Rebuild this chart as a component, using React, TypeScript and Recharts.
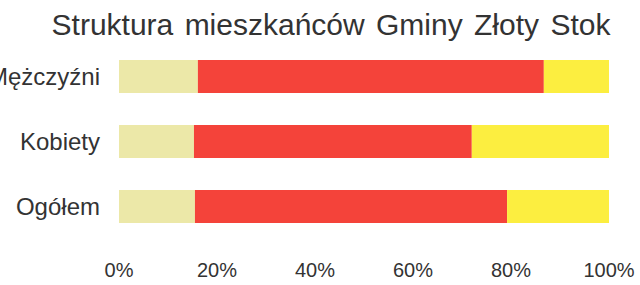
import React from 'react';
import { BarChart, Bar, XAxis, YAxis, CartesianGrid } from 'recharts';

// udział grup wieku ekonomicznego w %
const categories = ['Mężczyźni', 'Kobiety', 'Ogółem'];
const przedprodukcyjny = [16.1, 15.3, 15.5];
const produkcyjny = [70.6, 56.7, 63.7];
const poprodukcyjny = [13.3, 28.0, 20.8];
const xTicks = [0, 20, 40, 60, 80, 100];

const data = categories.map((name, i) => ({
  name,
  przed: przedprodukcyjny[i],
  prod: produkcyjny[i],
  po: poprodukcyjny[i],
}));

const FONT = '"Liberation Sans", Arial, sans-serif';

const App: React.FC = () => {
  return (
    <div
      style={{
        position: 'fixed',
        left: 0,
        top: 0,
        width: 640,
        height: 285,
        overflow: 'hidden',
        background: '#fff',
        fontFamily: FONT,
      }}
    >
      <div
        style={{
          position: 'absolute',
          left: 0,
          top: 8,
          width: 662,
          textAlign: 'center',
          fontSize: 30,
          color: '#333',
          wordSpacing: 3,
        }}
      >
        Struktura mieszkańców Gminy Złoty Stok
      </div>
      <BarChart
        width={640}
        height={285}
        data={data}
        layout="vertical"
        margin={{ top: 44, right: 31, bottom: 0, left: 0 }}
        barSize={33}
      >
        <CartesianGrid horizontal={false} vertical={false} />
        <XAxis
          type="number"
          domain={[0, 100]}
          ticks={xTicks}
          tickFormatter={(v: number) => `${v}%`}
          axisLine={false}
          tickLine={false}
          tickSize={0}
          tickMargin={24}
          height={46}
          tick={{ fill: '#333', fontSize: 20, fontFamily: FONT }}
          interval={0}
        />
        <YAxis
          type="category"
          dataKey="name"
          width={119}
          axisLine={false}
          tickLine={false}
          tickSize={0}
          tickMargin={19}
          tick={{ fill: '#333', fontSize: 24, fontFamily: FONT }}
        />
        <Bar dataKey="przed" stackId="a" fill="#ece8a8" isAnimationActive={false} />
        <Bar dataKey="prod" stackId="a" fill="#f4433a" isAnimationActive={false} />
        <Bar dataKey="po" stackId="a" fill="#fcee40" isAnimationActive={false} />
      </BarChart>
    </div>
  );
};

export default App;
